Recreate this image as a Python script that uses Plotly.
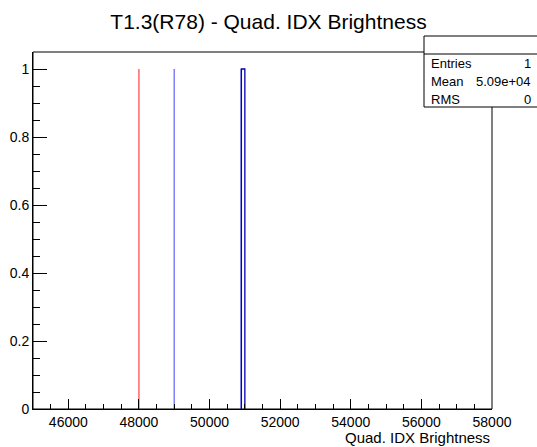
import plotly.graph_objects as go

# ---- data ----
title = "T1.3(R78) - Quad. IDX Brightness"
x_title = "Quad. IDX Brightness"
bin_lo = [50900]
bin_hi = [51000]
counts = [1]
ref_x = [48000, 49000, 50900]
ref_colors = ["rgba(255,0,0,0.6)", "rgba(0,0,255,0.5)", "rgba(0,0,255,0.5)"]
ref_height = [1, 1, 1]
x_tickvals = [46000, 48000, 50000, 52000, 54000, 56000, 58000]
x_ticktext = ["46000", "48000", "50000", "52000", "54000", "56000", "58000"]
y_tickvals = [0, 0.2, 0.4, 0.6, 0.8, 1]
y_ticktext = ["0", "0.2", "0.4", "0.6", "0.8", "1"]
stats_labels = ["Entries", "Mean", "RMS"]
stats_values = ["1", "5.09e+04", "0"]

W, H = 537, 447
L, R, T, B = 33, 492, 52, 409  # plot-area pixels

def px(x):
    return (x - L) / (R - L)

def py(y):
    return (B - y) / (B - T)

fig = go.Figure()

for xv, c, h in zip(ref_x, ref_colors, ref_height):
    fig.add_trace(go.Scatter(x=[xv, xv], y=[0, h], mode="lines",
                             line=dict(color=c, width=1.5), hoverinfo="skip"))

# histogram outline (step)
hx, hy = [], []
for lo, hi, cnt in zip(bin_lo, bin_hi, counts):
    hx += [lo, lo, hi, hi]
    hy += [0, cnt, cnt, 0]
fig.add_trace(go.Scatter(x=hx, y=hy, mode="lines",
                         line=dict(color="#0000b0", width=1.3), hoverinfo="skip"))

font = "Liberation Sans, Arial, sans-serif"

fig.update_layout(
    width=W, height=H,
    margin=dict(l=L, r=W - R, t=T, b=H - B, autoexpand=False),
    paper_bgcolor="white", plot_bgcolor="white",
    showlegend=False,
    font=dict(family=font, color="black", size=14),
    title=dict(text=title, x=0.5, xanchor="center", y=1 - 22 / H, yanchor="middle",
               font=dict(size=21, family=font)),
)
fig.update_xaxes(
    range=[45000, 58000], tickvals=x_tickvals, ticktext=x_ticktext,
    showgrid=False, zeroline=False, showline=True, linecolor="black", linewidth=1,
    ticks="inside", ticklen=10, tickcolor="black", tickwidth=1,
    minor=dict(dtick=500, ticklen=5, ticks="inside", tickcolor="black", showgrid=False),
    tickfont=dict(size=14), title=None, automargin=False,
)
fig.update_yaxes(
    range=[0, 1.05], tickvals=y_tickvals, ticktext=y_ticktext,
    showgrid=False, zeroline=False, showline=True, linecolor="black", linewidth=1,
    ticks="inside", ticklen=14, tickcolor="black", tickwidth=1,
    minor=dict(dtick=0.05, ticklen=7, ticks="inside", tickcolor="black", showgrid=False),
    tickfont=dict(size=14), automargin=False,
)

# frame (top/right), drawn below so the stats box can cover it
fig.add_shape(type="rect", xref="paper", yref="paper", x0=0, x1=1, y0=0, y1=1,
              line=dict(color="black", width=1), layer="below")

# x-axis title right aligned
fig.add_annotation(text=x_title, xref="paper", yref="paper", x=1, y=py(437),
                   xanchor="right", yanchor="middle", showarrow=False,
                   font=dict(size=15, family=font))

# stats box
bx0, bx1, by0, by1 = 424, 545, 36, 107
fig.add_shape(type="rect", xref="paper", yref="paper",
              x0=px(bx0), x1=px(bx1), y0=py(by1), y1=py(by0),
              line=dict(color="black", width=1), fillcolor="white", layer="above")
fig.add_shape(type="line", xref="paper", yref="paper",
              x0=px(bx0), x1=px(bx1), y0=py(54), y1=py(54),
              line=dict(color="black", width=1), layer="above")
row_y = [63, 81, 99]
for lab, val, ry in zip(stats_labels, stats_values, row_y):
    fig.add_annotation(text=lab, xref="paper", yref="paper", x=px(429), y=py(ry),
                       xanchor="left", yanchor="middle", showarrow=False,
                       font=dict(size=13, family=font))
    fig.add_annotation(text=val, xref="paper", yref="paper", x=px(533), y=py(ry),
                       xanchor="right", yanchor="middle", showarrow=False,
                       font=dict(size=13, family=font))

fig.write_html("out.html", config={"displayModeBar": False},
               post_script="document.body.style.margin='0';document.body.style.overflow='hidden';")
